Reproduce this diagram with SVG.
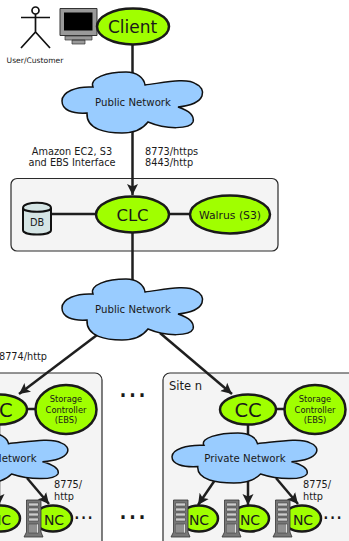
<svg xmlns="http://www.w3.org/2000/svg" width="349" height="541" viewBox="0 0 349 541">
<style>
text{font-family:"DejaVu Sans",sans-serif;fill:#1a1a1a;text-anchor:middle}
.st{text-anchor:start}
.box{fill:#f4f4f4;stroke:#2a2a2a;stroke-width:1.2}
.el{fill:#a0ff00;stroke:#1a1a1a;stroke-width:2.5}
.cl{fill:#99ccff;stroke:#111;stroke-width:1.5;vector-effect:non-scaling-stroke}
.ln{stroke:#1f1f1f;stroke-width:2.5;fill:none}
.ar{marker-end:url(#h)}
.s10{font-size:10.200px}.s9{font-size:9.750px}.s8{font-size:8.300px}
</style>
<defs>
<marker id="h" markerUnits="userSpaceOnUse" markerWidth="14" markerHeight="14" refX="11" refY="6" orient="auto"><path d="M0,0.500 L11,6 L0,11.500 L2.500,6 Z" fill="#1f1f1f"/></marker>
<path id="cloud" class="cl" d="M0,29 C0,20 14,14 31,15 C27,6 45,0 64,0 C75,0 82,6 83,13 C100,11 125,5 134,12 C144,16 146,32 116,35 C125,38 133,43 131,50 C128,57 105,58 86,50 C80,58 72,61 60,61 C45,61 24,58 25,41 C10,42 0,38 0,29 Z"/>
<g id="server">
<path d="M0,37 L2.500,32 L2.500,0 L17,0 L17,32 L19,37 Z" fill="#777" stroke="#333" stroke-width=".8"/>
<path d="M4.500,3h10v3h-10zM4.500,8h10v3h-10zM4.500,13h10v3h-10zM4.500,18h10v3h-10z" fill="#ccc" stroke="#333" stroke-width=".5"/>
<path d="M4.500,24h10v9h-10z" fill="#ddd" stroke="#333" stroke-width=".5"/>
<path d="M6,24v9M8,24v9M10,24v9M12,24v9" stroke="#333" stroke-width=".9"/>
</g>
</defs>
<g id="boxes">
<rect class="box" x="11" y="178.500" width="267" height="72.500" rx="6"/>
<rect class="box" x="-60" y="373" width="162" height="190" rx="7"/>
<rect class="box" x="163" y="373" width="220" height="190" rx="7"/>
</g>
<g id="connectors">
<path class="ln ar" d="M132.500,44V195"/>
<path class="ln" d="M50,214H240M132.500,232V285"/>
<path class="ln ar" d="M97,335L19,394"/>
<path class="ln ar" d="M160,333L232,394"/>
<path class="ln" d="M248,420V440M-1,420V440M15,409H40M262,409H290"/>
<path class="ln ar" d="M215,480L198,505"/><path class="ln ar" d="M248,480V505"/><path class="ln ar" d="M276,478L298,504"/>
<path class="ln ar" d="M-34,480L-51,505"/><path class="ln ar" d="M-1,480V505"/><path class="ln ar" d="M27,478L49,504"/>
</g>
<g id="user"><circle cx="35.500" cy="10.500" r="3.500" fill="#fff" stroke="#111" stroke-width="1.700"/><path d="M35.500,14V32M21,17.500H50M21,48L35.500,32L50,48" fill="none" stroke="#111" stroke-width="1.700"/><text x="35" y="63" style="font-size:7.600px">User/Customer</text></g>
<g id="computer">
<path d="M60,8.500h37v27h-37z" fill="#999" stroke="#333"/><path d="M64,12.500h28.500v18h-28.500z" fill="#000"/>
<path d="M65,36h27v4h-27zM72,40h13v4h-13z" fill="#999" stroke="#333" stroke-width=".7"/>
</g>
<g id="client"><ellipse class="el" cx="133" cy="26.500" rx="36" ry="18"/><text x="132.500" y="33" style="font-size:17px">Client</text></g>
<g id="cloud1"><use href="#cloud" x="62" y="72"/><text x="133" y="106" class="s10">Public Network</text></g>
<g id="interfaceLabel"><text x="72" y="155" class="s9">Amazon EC2, S3</text><text x="72" y="166" class="s9">and EBS Interface</text></g>
<g id="portLabel"><text x="145" y="155" class="s9 st">8773/https</text><text x="145" y="166" class="s9 st">8443/http</text></g>
<g id="db"><path d="M23,208C23,201 51,201 51,208V230C51,236 23,236 23,230Z" fill="#d5e5e5" stroke="#111" stroke-width="2"/><path d="M23,208C23,213 51,213 51,208" fill="none" stroke="#111" stroke-width="2"/><text x="37" y="226" class="s9">DB</text></g>
<g id="clc"><ellipse class="el" cx="132.500" cy="214.500" rx="36.500" ry="18"/><text x="132.500" y="220.500" style="font-size:16.500px">CLC</text></g>
<g id="walrus"><ellipse class="el" cx="230" cy="214.500" rx="40" ry="19"/><text x="230" y="218.500" style="font-size:10.800px">Walrus (S3)</text></g>
<text x="169" y="390" class="st" style="font-size:11.500px">Site n</text>
<g id="cloud2"><use href="#cloud" x="62" y="279"/><text x="133" y="313" class="s10">Public Network</text></g>
<text x="23" y="360" class="s9">8774/http</text>
<g id="ccLeft"><ellipse class="el" cx="-1" cy="409.500" rx="28" ry="15"/><text x="-1" y="416.500" style="font-size:19.500px">CC</text></g>
<g id="scLeft"><ellipse class="el" cx="66" cy="409.500" rx="30.500" ry="24.500"/><text x="66" y="402" class="s8">Storage</text><text x="66" y="413" class="s8">Controller</text><text x="66" y="423" class="s8">(EBS)</text></g>
<g id="ccRight"><ellipse class="el" cx="248" cy="409.500" rx="28" ry="15"/><text x="248" y="416.500" style="font-size:19.500px">CC</text></g>
<g id="scRight"><ellipse class="el" cx="315" cy="409.500" rx="30.500" ry="24.500"/><text x="315" y="402" class="s8">Storage</text><text x="315" y="413" class="s8">Controller</text><text x="315" y="423" class="s8">(EBS)</text></g>
<g id="privLeft"><use href="#cloud" transform="translate(-77,433) scale(1.03,.82)"/><text x="-4" y="461.500" class="s10">Private Network</text></g>
<g id="privRight"><use href="#cloud" transform="translate(172,433) scale(1.03,.82)"/><text x="245" y="461.500" class="s10">Private Network</text></g>
<g id="labels"><text x="54" y="488" class="s9 st">8775/</text><text x="54" y="500" class="s9 st">http</text><text x="303" y="488" class="s9 st">8775/</text><text x="303" y="500" class="s9 st">http</text></g>
<g id="nc1"><ellipse class="el" cx="1" cy="518.500" rx="19" ry="13"/><text x="1" y="525" style="font-size:14px">NC</text></g>
<g id="nc2"><ellipse class="el" cx="53" cy="518.500" rx="19" ry="13"/><use href="#server" x="24" y="500"/><text x="54" y="525" style="font-size:14px">NC</text></g>
<g id="nc3"><ellipse class="el" cx="199" cy="518.500" rx="19" ry="13"/><use href="#server" x="171" y="500"/><text x="199" y="525" style="font-size:14px">NC</text></g>
<g id="nc4"><ellipse class="el" cx="250" cy="518.500" rx="19" ry="13"/><use href="#server" x="222" y="500"/><text x="250" y="525" style="font-size:14px">NC</text></g>
<g id="nc5"><ellipse class="el" cx="302" cy="518.500" rx="19" ry="13"/><use href="#server" x="273" y="500"/><text x="303" y="525" style="font-size:14px">NC</text></g>
<g id="dots">
<text x="132.500" y="397" style="font-size:30px">...</text>
<text x="132.500" y="519" style="font-size:30px">...</text>
<text x="83.500" y="519" style="font-size:21px">...</text>
<text x="332.500" y="519" style="font-size:21px">...</text>
</g>
</svg>
